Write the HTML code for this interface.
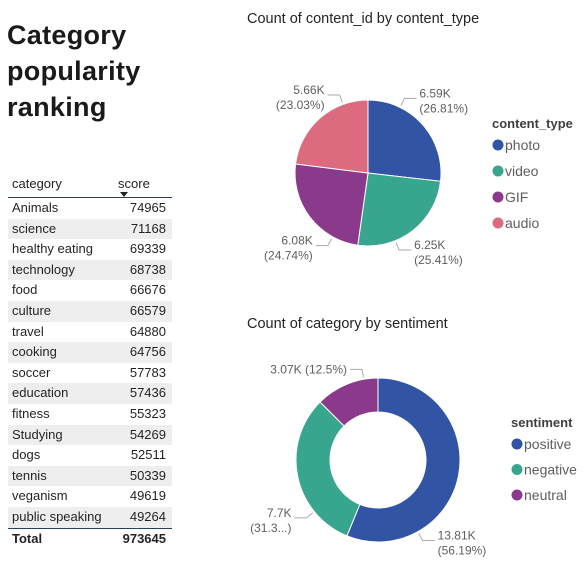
<!DOCTYPE html>
<html><head><meta charset="utf-8">
<style>
body{margin:0;width:584px;height:584px;background:#fff;overflow:hidden;font-family:"Liberation Sans",sans-serif;position:relative}
#title{position:absolute;left:7px;top:17px;font-weight:bold;font-size:27px;line-height:36px;color:#1a1a1a;letter-spacing:0.3px}
table{position:absolute;left:8px;top:170px;width:164px;border-collapse:collapse;font-size:13px;color:#252423}
th{font-weight:normal;text-align:left;height:27px;vertical-align:middle;border-bottom:1px solid #2a3f5a;padding:0 4px}
td{height:20.6px;padding:0 4px;line-height:20.6px}
td.n{text-align:right;padding-right:6px}
tr.alt td{background:#eeeeee}
tr.tot td{font-weight:bold;border-top:1px solid #2a3f5a;height:20px}
.sc{display:inline-block;position:relative}
.arrow{position:absolute;left:2px;top:16px;width:0;height:0;border-left:4px solid transparent;border-right:4px solid transparent;border-top:5px solid #222}
svg{position:absolute;left:0;top:0}
</style></head><body>
<div id="title">Category<br>popularity<br>ranking</div>
<table>
<thead><tr><th>category</th><th><span class="sc">score<span class="arrow"></span></span></th></tr></thead>
<tbody>
<tr><td>Animals</td><td class="n">74965</td></tr>
<tr class="alt"><td>science</td><td class="n">71168</td></tr>
<tr><td>healthy eating</td><td class="n">69339</td></tr>
<tr class="alt"><td>technology</td><td class="n">68738</td></tr>
<tr><td>food</td><td class="n">66676</td></tr>
<tr class="alt"><td>culture</td><td class="n">66579</td></tr>
<tr><td>travel</td><td class="n">64880</td></tr>
<tr class="alt"><td>cooking</td><td class="n">64756</td></tr>
<tr><td>soccer</td><td class="n">57783</td></tr>
<tr class="alt"><td>education</td><td class="n">57436</td></tr>
<tr><td>fitness</td><td class="n">55323</td></tr>
<tr class="alt"><td>Studying</td><td class="n">54269</td></tr>
<tr><td>dogs</td><td class="n">52511</td></tr>
<tr class="alt"><td>tennis</td><td class="n">50339</td></tr>
<tr><td>veganism</td><td class="n">49619</td></tr>
<tr class="alt"><td>public speaking</td><td class="n">49264</td></tr>
<tr class="tot"><td>Total</td><td class="n">973645</td></tr>
</tbody></table>
<svg id="chart" width="584" height="584" xmlns="http://www.w3.org/2000/svg" font-family="Liberation Sans, sans-serif">
<text x="247" y="23" font-size="14.5" fill="#252423">Count of content_id by content_type</text>
<text x="247" y="328" font-size="14.5" fill="#252423">Count of category by sentiment</text>
</svg>
<script>
const pieCats=["photo","video","GIF","audio"];
const pieVals=[6590,6250,6080,5660];
const pieLabels=["6.59K","6.25K","6.08K","5.66K"];
const piePcts=["(26.81%)","(25.41%)","(24.74%)","(23.03%)"];
const donutCats=["positive","negative","neutral"];
const donutVals=[13810,7700,3070];
const donutLabels=["13.81K","7.7K","3.07K (12.5%)"];
const donutPcts=["(56.19%)","(31.3...)",""];
// layout: leader-line anchor angles (degrees, clockwise from top)
const pieLabelAngles=[26,158,209,340];
const donutLabelAngles=[151,231,350];
const pieColors=["#3154a5","#38a68f","#8b3a8b","#dd6b7f"];
const donutColors=["#3154a5","#38a68f","#8b3a8b"];
const svg=document.getElementById('chart');
const NS="http://www.w3.org/2000/svg";
function mk(t,a){const e=document.createElementNS(NS,t);for(const k in a)e.setAttribute(k,a[k]);svg.appendChild(e);return e;}
function pt(cx,cy,r,a){return [cx+r*Math.sin(a),cy-r*Math.cos(a)];}
function arc(cx,cy,r,ri,a0,a1){
  const lg=(a1-a0)>Math.PI?1:0;const [x0,y0]=pt(cx,cy,r,a0),[x1,y1]=pt(cx,cy,r,a1);
  if(!ri)return `M${cx},${cy}L${x0},${y0}A${r},${r} 0 ${lg} 1 ${x1},${y1}Z`;
  const [x2,y2]=pt(cx,cy,ri,a1),[x3,y3]=pt(cx,cy,ri,a0);
  return `M${x0},${y0}A${r},${r} 0 ${lg} 1 ${x1},${y1}L${x2},${y2}A${ri},${ri} 0 ${lg} 0 ${x3},${y3}Z`;
}
function drawRing(cats,vals,colors,labels,pcts,angs,cx,cy,r,ri,prefix){
  const tot=vals.reduce((a,b)=>a+b,0);let a=0;
  vals.forEach((v,i)=>{
    const a1=a+v/tot*2*Math.PI;
    const p=mk('path',{d:arc(cx,cy,r,ri,a,a1),fill:colors[i],stroke:'#fff','stroke-width':1});
    
    
    const m=angs[i]*Math.PI/180;const [lx0,ly0]=pt(cx,cy,r+2,m),[lx1,ly1]=pt(cx,cy,r+10,m);
    const right=Math.sin(m)>=0;const lx2=lx1+(right?12:-12);
    const ln=mk('polyline',{points:`${lx0},${ly0} ${lx1},${ly1} ${lx2},${ly1}`,fill:'none',stroke:'#aaa','stroke-width':1});
    
    
    const tx=lx2+(right?3:-3),anc=right?'start':'end';
    const single=!pcts[i];
    const t=mk('text',{x:tx,y:single?ly1+4:ly1-1,'font-size':12,fill:'#605e5c','text-anchor':anc});
    t.textContent=labels[i];
    
    
    if(!single){const t2=mk('text',{x:tx,y:ly1+14,'font-size':12,fill:'#605e5c','text-anchor':anc});t2.textContent=pcts[i];
      
      }
    a=a1;
  });
}
function legend(title,cats,colors,x,y,dy,prefix){
  const t=mk('text',{x:x,y:y,'font-size':13,'font-weight':'bold',fill:'#404040'});t.textContent=title;
  
  
  cats.forEach((c,i)=>{
    const yy=y+17+i*dy;
    const d=mk('circle',{cx:x+6,cy:yy,r:5.5,fill:colors[i]});
    
    
    const l=mk('text',{x:x+13,y:yy+5,'font-size':14,fill:'#605e5c'});l.textContent=c;
    
    
  });
}
drawRing(pieCats,pieVals,pieColors,pieLabels,piePcts,pieLabelAngles,368,173,73,0,'pie');
drawRing(donutCats,donutVals,donutColors,donutLabels,donutPcts,donutLabelAngles,378,460,82,48,'donut');
legend('content_type',pieCats,pieColors,492,128,26,'pie');
legend('sentiment',donutCats,donutColors,511,427,25.5,'donut');
</script>
</body></html>
